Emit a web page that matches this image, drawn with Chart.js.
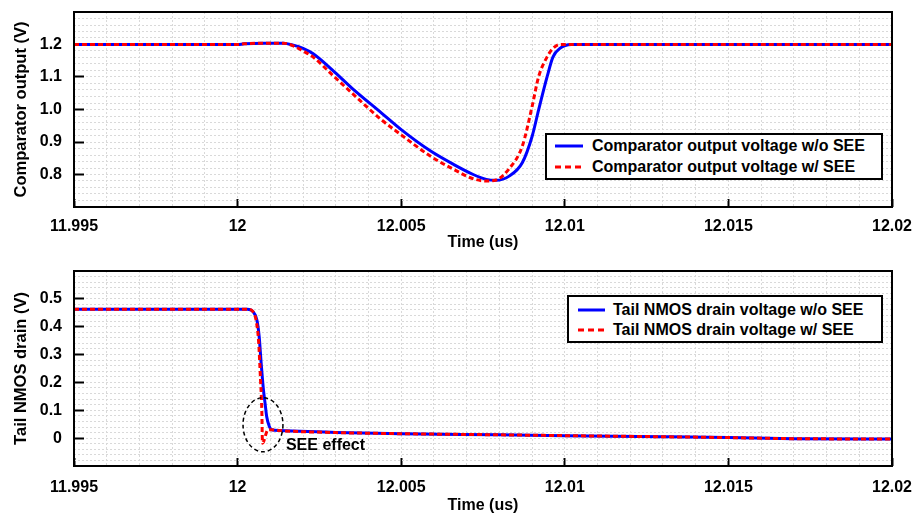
<!DOCTYPE html>
<html>
<head>
<meta charset="utf-8">
<script src="https://cdn.jsdelivr.net/npm/chart.js@4.4.1/dist/chart.umd.min.js"></script>
<style>
  body { margin: 0; background: #fff; }
  #wrap { position: relative; width: 914px; height: 516px; }
  #wrap canvas { position: absolute; left: 0; }
  .legend { position: absolute; box-sizing: border-box; border: 2px solid #000; background: #fff;
            font: bold 16px "Liberation Sans", Arial, sans-serif; color: #000; }
  .legend span { position: absolute; height: 20px; line-height: 20px; white-space: nowrap; }
  .legend svg { position: absolute; }
</style>
</head>
<body>
<div id="wrap">
  <canvas id="comparatorChart" width="914" height="258" style="top:0"></canvas>
  <canvas id="tailChart" width="914" height="258" style="top:258px"></canvas>

  <div class="legend" style="left:545px; top:133px; width:338px; height:47px;">
    <svg width="28" height="6" style="left:8px; top:8px"><line x1="0" y1="3" x2="28" y2="3" stroke="#0000ff" stroke-width="3"/></svg>
    <span style="left:45px; top:1px">Comparator output voltage w/o SEE</span>
    <svg width="28" height="6" style="left:8px; top:29px"><line x1="0" y1="3" x2="28" y2="3" stroke="#ff0000" stroke-width="3" stroke-dasharray="6 4"/></svg>
    <span style="left:45px; top:22px">Comparator output voltage w/ SEE</span>
  </div>

  <div class="legend" style="left:567px; top:295px; width:316px; height:48px;">
    <svg width="27" height="6" style="left:9px; top:10px"><line x1="0" y1="3" x2="27" y2="3" stroke="#0000ff" stroke-width="3"/></svg>
    <span style="left:44px; top:3px">Tail NMOS drain voltage w/o SEE</span>
    <svg width="27" height="6" style="left:9px; top:30px"><line x1="0" y1="3" x2="27" y2="3" stroke="#ff0000" stroke-width="3" stroke-dasharray="6 4"/></svg>
    <span style="left:44px; top:23px">Tail NMOS drain voltage w/ SEE</span>
  </div>
</div>

<script>
// ---- Datos ----

// eje X (tiempo en us)
const xMin = 11.995;
const xMax = 12.02;
const xMajorTicks = [11.995, 12, 12.005, 12.01, 12.015, 12.02];
const xTickLabels = ['11.995', '12', '12.005', '12.01', '12.015', '12.02'];

// grafico superior: salida del comparador
const compRange = [0.7, 1.3];
const compTicks = [0.8, 0.9, 1.0, 1.1, 1.2];
const compTickLabels = ['0.8', '0.9', '1.0', '1.1', '1.2'];
const compTime = [11.995, 12.0, 12.0002, 12.0008, 12.0014, 12.0017, 12.002, 12.0023, 12.0029, 12.0035,
                  12.0044, 12.005, 12.0059, 12.0066, 12.0072, 12.0076, 12.0079, 12.0083, 12.0087, 12.009,
                  12.0092, 12.00946, 12.00964, 12.00985, 12.0102, 12.02];
const compNoSee = [1.2, 1.2, 1.202, 1.204, 1.204, 1.198, 1.188, 1.172, 1.121, 1.065,
                   0.989, 0.938, 0.872, 0.831, 0.800, 0.785, 0.782, 0.795, 0.836, 0.917,
                   0.999, 1.101, 1.162, 1.188, 1.2, 1.2];
const compSee   = [1.2, 1.2, 1.202, 1.204, 1.204, 1.196, 1.180, 1.162, 1.106, 1.050,
                   0.968, 0.922, 0.856, 0.816, 0.787, 0.780, 0.783, 0.818, 0.887, 1.009,
                   1.101, 1.162, 1.188, 1.2, 1.2, 1.2];

// grafico inferior: drenaje del NMOS de cola
const tailRange = [-0.1, 0.6];
const tailTicks = [0, 0.1, 0.2, 0.3, 0.4, 0.5];
const tailTickLabels = ['0', '0.1', '0.2', '0.3', '0.4', '0.5'];
const tailTimeNoSee = [11.995, 12.0003, 12.00047, 12.00059, 12.00066, 12.00072, 12.00079, 12.00084, 12.00089, 12.00097,
                       12.00104, 12.0013, 12.003, 12.005, 12.008, 12.01, 12.013, 12.015, 12.017, 12.02];
const tailNoSee     = [0.463, 0.463, 0.454, 0.424, 0.364, 0.269, 0.173, 0.125, 0.077, 0.042,
                       0.030, 0.027, 0.020, 0.016, 0.012, 0.009, 0.005, 0.002, -0.002, -0.003];
const tailTimeSee   = [11.995, 12.0003, 12.00047, 12.00057, 12.00064, 12.0007, 12.00074, 12.00076, 12.00093,
                       12.00104, 12.0013, 12.003, 12.005, 12.008, 12.01, 12.013, 12.015, 12.017, 12.02];
const tailSee       = [0.463, 0.463, 0.454, 0.420, 0.350, 0.210, 0.100, -0.018, 0.030,
                       0.030, 0.027, 0.020, 0.016, 0.012, 0.009, 0.005, 0.002, -0.002, -0.003];

// marca "SEE effect" (centro y radios en unidades de datos)
const seeCenter = [12.000776, 0.048];
const seeRadius = [0.00061, 0.097];
const seeLabel = 'SEE effect';

// ---- Estilos ----
const FONT = { family: '"Liberation Sans", Arial, sans-serif', size: 16, weight: 'bold' };
const GRID_COLOR = '#d9d9d9';

function toPoints(xs, ys) {
    return xs.map((x, i) => ({ x: x, y: ys[i] }));
}

function majorIndex(value, list) {
    return list.findIndex(v => Math.abs(v - value) < 1e-7);
}

// Marco negro alrededor del area de trazado
const framePlugin = {
    id: 'frame',
    afterDatasetsDraw(chart) {
        const { ctx, chartArea: a } = chart;
        ctx.save();
        ctx.strokeStyle = '#000';
        ctx.lineWidth = 2;
        ctx.strokeRect(a.left, a.top, a.right - a.left, a.bottom - a.top);
        ctx.restore();
    }
};

// Elipse punteada + texto
const seePlugin = {
    id: 'seeMark',
    afterDatasetsDraw(chart) {
        const { ctx, scales: { x, y } } = chart;
        const cx = x.getPixelForValue(seeCenter[0]);
        const cy = y.getPixelForValue(seeCenter[1]);
        const rx = x.getPixelForValue(seeCenter[0] + seeRadius[0]) - cx;
        const ry = cy - y.getPixelForValue(seeCenter[1] + seeRadius[1]);
        ctx.save();
        ctx.strokeStyle = '#000';
        ctx.lineWidth = 1.5;
        ctx.setLineDash([4, 3]);
        ctx.beginPath();
        ctx.ellipse(cx, cy, rx, ry, 0, 0, Math.PI * 2);
        ctx.stroke();
        ctx.setLineDash([]);
        ctx.fillStyle = '#000';
        ctx.font = 'bold 16px "Liberation Sans", Arial, sans-serif';
        ctx.textBaseline = 'middle';
        ctx.fillText(seeLabel, cx + rx + 3, cy + ry * 0.78);
        ctx.restore();
    }
};

function xScale(axisHeight, labelPad, titlePad) {
    return {
        type: 'linear',
        min: xMin,
        max: xMax,
        afterFit: s => {
            s.height = axisHeight;
            s.paddingLeft = 0;
            s.paddingRight = 0;
        },
        ticks: {
            stepSize: 0.001,
            autoSkip: false,
            maxRotation: 0,
            padding: labelPad,
            color: '#000',
            font: FONT,
            callback: v => {
                const i = majorIndex(v, xMajorTicks);
                return i >= 0 ? xTickLabels[i] : '';
            }
        },
        grid: {
            color: GRID_COLOR,
            lineWidth: 1,
            tickLength: -8,
            tickWidth: 2,
            tickBorderDash: [],
            tickColor: c => majorIndex(c.tick.value, xMajorTicks) >= 0 ? '#000' : 'rgba(0,0,0,0)'
        },
        border: { display: false, dash: [2, 2] },
        title: { display: true, text: 'Time (us)', color: '#000', font: FONT, padding: { top: 0, bottom: titlePad } }
    };
}

function yScale(range, ticks, labels, title) {
    return {
        min: range[0],
        max: range[1],
        afterFit: s => {
            s.width = 74;
            s.paddingTop = 0;
            s.paddingBottom = 0;
        },
        ticks: {
            stepSize: 0.02,
            autoSkip: false,
            padding: 22,
            color: '#000',
            font: FONT,
            callback: v => {
                const i = majorIndex(v, ticks);
                return i >= 0 ? labels[i] : '';
            }
        },
        grid: {
            color: GRID_COLOR,
            lineWidth: 1,
            tickLength: -10,
            tickWidth: 2,
            tickBorderDash: [],
            tickColor: c => majorIndex(c.tick.value, ticks) >= 0 ? '#000' : 'rgba(0,0,0,0)'
        },
        border: { display: false, dash: [2, 2] },
        title: { display: true, text: title, color: '#000', font: { ...FONT, size: 16.5 }, padding: { top: 12, bottom: 0 } }
    };
}

function lineSet(label, xs, ys, color, dash, order) {
    return {
        label: label,
        data: toPoints(xs, ys),
        borderColor: color,
        backgroundColor: color,
        borderWidth: 3,
        borderDash: dash,
        pointRadius: 0,
        fill: false,
        cubicInterpolationMode: 'monotone',
        order: order
    };
}

function baseOptions(padTop, xAxis, yAxis) {
    return {
        responsive: false,
        animation: false,
        devicePixelRatio: 1,
        layout: { padding: { top: padTop, right: 22, left: 0, bottom: 0 } },
        plugins: { legend: { display: false }, tooltip: { enabled: false } },
        scales: { x: xAxis, y: yAxis }
    };
}

// Grafico superior
new Chart(document.getElementById('comparatorChart').getContext('2d'), {
    type: 'line',
    data: {
        datasets: [
            lineSet('Comparator output voltage w/o SEE', compTime, compNoSee, '#0000ff', [], 2),
            lineSet('Comparator output voltage w/ SEE', compTime, compSee, '#ff0000', [5, 3], 1)
        ]
    },
    options: baseOptions(12, xScale(51, 18, 6), yScale(compRange, compTicks, compTickLabels, 'Comparator output (V)')),
    plugins: [framePlugin]
});

// Grafico inferior
new Chart(document.getElementById('tailChart').getContext('2d'), {
    type: 'line',
    data: {
        datasets: [
            lineSet('Tail NMOS drain voltage w/o SEE', tailTimeNoSee, tailNoSee, '#0000ff', [], 2),
            lineSet('Tail NMOS drain voltage w/ SEE', tailTimeSee, tailSee, '#ff0000', [5, 3], 1)
        ]
    },
    options: baseOptions(13, xScale(50, 20, 1), yScale(tailRange, tailTicks, tailTickLabels, 'Tail NMOS drain (V)')),
    plugins: [framePlugin, seePlugin]
});
</script>
</body>
</html>
